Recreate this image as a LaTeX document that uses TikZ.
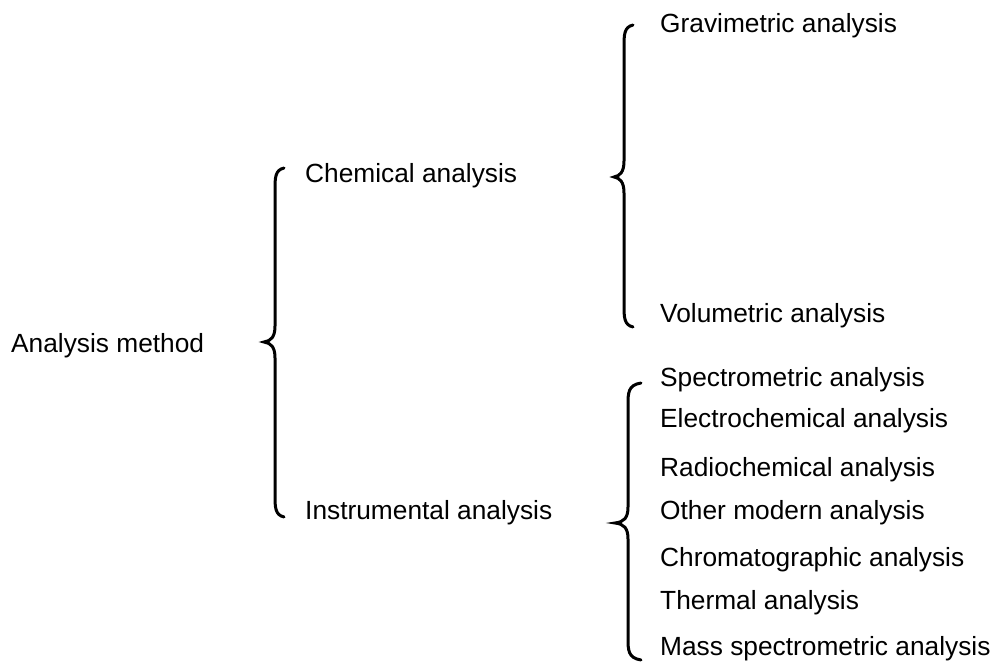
\documentclass[tikz,border=0pt]{standalone}
\usepackage{fontspec}
\setmainfont{Liberation Sans}
\newcommand{\mybrace}[6]{% x, ytop, ymid, ybot, xend, xtip
  \draw[bracestyle] (#5,#2) .. controls (#1,#2+2) and (#1,#2+10) .. (#1,#2+22)
    -- (#1,#3-16) .. controls (#1,#3-5) and (#1-4,#3-1) .. (#6,#3)
    .. controls (#1-4,#3+1) and (#1,#3+5) .. (#1,#3+16)
    -- (#1,#4-22) .. controls (#1,#4-10) and (#1,#4-2) .. (#5,#4);}
\begin{document}
\begin{tikzpicture}[x=1pt,y=-1pt,
  lbl/.style={anchor=base west,inner sep=0pt,font=\fontsize{26.3}{31}\selectfont},
  bracestyle/.style={line width=3pt,line cap=round}]
\useasboundingbox (0,0) rectangle (997,668);
\node[lbl] (am) at (11,353) {Analysis method};
\node[lbl] (ca) at (305,183) {Chemical analysis};
\node[lbl] (ia) at (305,519) {Instrumental analysis};
\node[lbl] (ga) at (660,33) {Gravimetric analysis};
\node[lbl] (va) at (660,323) {Volumetric analysis};
\node[lbl] (sa) at (660,387) {Spectrometric analysis};
\node[lbl] (ea) at (660,428) {Electrochemical analysis};
\node[lbl] (ra) at (660,477) {Radiochemical analysis};
\node[lbl] (oa) at (660,519) {Other modern analysis};
\node[lbl] (cha) at (660,566) {Chromatographic analysis};
\node[lbl] (ta) at (660,609) {Thermal analysis};
\node[lbl] (ma) at (660,655) {Mass spectrometric analysis};
\mybrace{275}{168}{342}{517}{284}{264}
\mybrace{624}{25}{177}{327}{633}{614}
\mybrace{628}{383}{523}{660}{641}{615}
\end{tikzpicture}
\end{document}
